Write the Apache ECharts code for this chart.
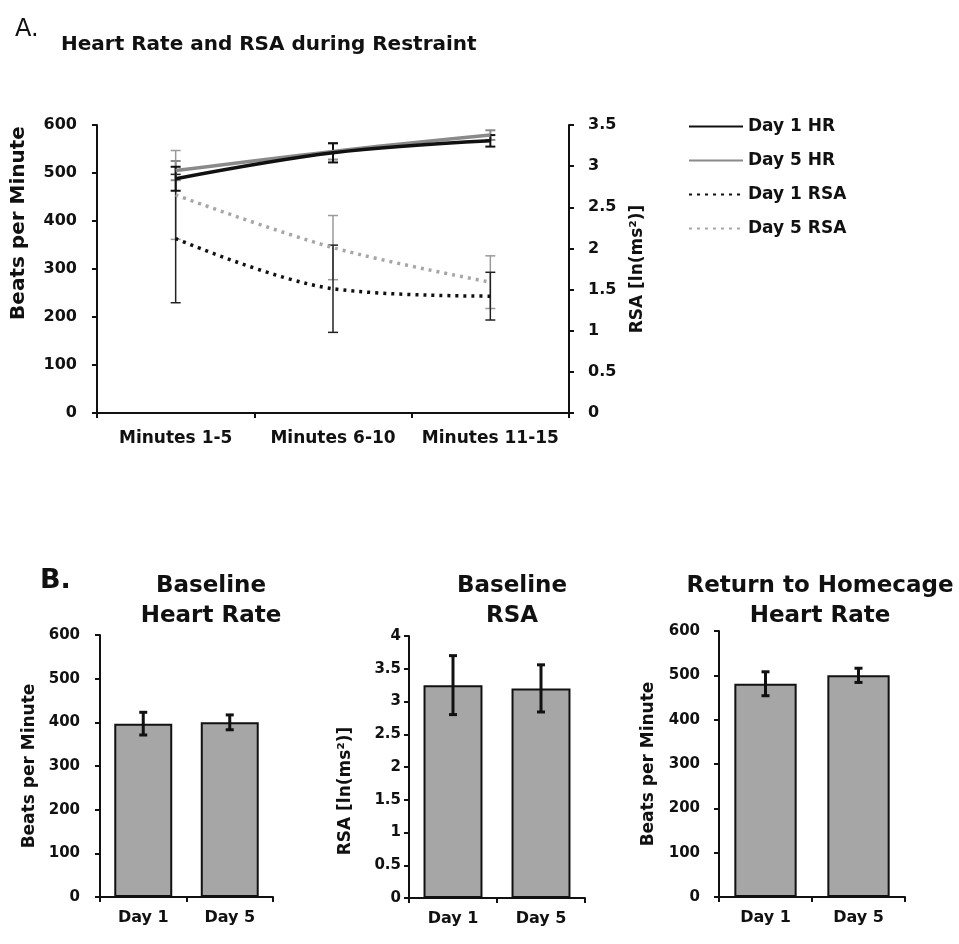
<!DOCTYPE html>
<html>
<head>
<meta charset="utf-8">
<script src="https://cdn.jsdelivr.net/npm/echarts@6/dist/echarts.min.js"></script>
<style>
html,body{margin:0;padding:0;background:#fff;}
#chart{width:959px;height:944px;}
</style>
</head>
<body>
<div id="chart"></div>
<script>
// ---- Panel A data ----
const minutes = ['Minutes 1-5', 'Minutes 6-10', 'Minutes 11-15'];
const day1HR = [488, 542, 567];
const day1HRErr = [25, 20, 12];
const day5HR = [505, 545, 579];
const day5HRErr = [20, 17, 10];
const day1RSA = [2.12, 1.51, 1.42];
const day1RSAErr = [0.78, 0.53, 0.29];
const day5RSA = [2.65, 2.01, 1.59];
const day5RSAErr = [0.54, 0.39, 0.32];

// ---- Panel B data ----
const days = ['Day 1', 'Day 5'];
const baseHR = [397, 400];
const baseHRErr = [26, 17];
const baseRSA = [3.25, 3.2];
const baseRSAErr = [0.45, 0.36];
const homeHR = [481, 500];
const homeHRErr = [27, 16];

const FONT = 'DejaVu Sans';

function errData(vals, errs) {
  return vals.map((v, i) => [i, v - errs[i], v + errs[i]]);
}
function errRender(color, width, cap) {
  return function (params, api) {
    const x = api.value(0);
    const lo = api.coord([x, api.value(1)]);
    const hi = api.coord([x, api.value(2)]);
    const st = { stroke: color, lineWidth: width };
    return {
      type: 'group',
      children: [
        { type: 'line', shape: { x1: lo[0], y1: lo[1], x2: hi[0], y2: hi[1] }, style: st },
        { type: 'line', shape: { x1: lo[0] - cap, y1: lo[1], x2: lo[0] + cap, y2: lo[1] }, style: st },
        { type: 'line', shape: { x1: hi[0] - cap, y1: hi[1], x2: hi[0] + cap, y2: hi[1] }, style: st }
      ]
    };
  };
}

const axisLine = { lineStyle: { color: '#111', width: 2 } };
const axisTick = { show: true, length: 5, lineStyle: { color: '#111', width: 2 } };
const tickFont = { fontFamily: FONT, fontWeight: 'bold', fontSize: 16, color: '#111' };

function valueAxis(gridIndex, max, interval, name, nameGap, margin, fontSize, nameSize, namePad) {
  return {
    type: 'value', gridIndex, min: 0, max, interval,
    name, nameLocation: 'middle', nameGap, nameRotate: 90,
    nameTextStyle: { fontFamily: FONT, fontWeight: 'bold', fontSize: nameSize || 17, color: '#111', padding: namePad || 0 },
    axisLine: Object.assign({ show: true }, axisLine), axisTick,
    splitLine: { show: false },
    axisLabel: Object.assign({}, tickFont, { margin, fontSize: fontSize || 16 })
  };
}
function catAxis(gridIndex, data, margin, fontSize) {
  return {
    type: 'category', gridIndex, data, boundaryGap: true,
    axisLine, axisTick: Object.assign({ alignWithLabel: false }, axisTick),
    axisLabel: Object.assign({}, tickFont, { margin, fontSize: fontSize || 16, interval: 0 })
  };
}

const chart = echarts.init(document.getElementById('chart'), null, { renderer: 'canvas' });

const option = {
  backgroundColor: '#fff',
  animation: false,
  title: [
    { text: 'A.', left: 10, top: 13, textStyle: { fontFamily: FONT, fontWeight: 'normal', fontSize: 24, color: '#111' } },
    { text: 'Heart Rate and RSA during Restraint', left: 56, top: 30, textStyle: { fontFamily: FONT, fontWeight: 'bold', fontSize: 20, color: '#111' } },
    { text: 'B.', left: 35, top: 562, textStyle: { fontFamily: FONT, fontWeight: 'bold', fontSize: 27, color: '#111' } },
    { text: 'Baseline\nHeart Rate', left: 206, top: 566, textAlign: 'center', textStyle: { fontFamily: FONT, fontWeight: 'bold', fontSize: 23, lineHeight: 30, color: '#111' } },
    { text: 'Baseline\nRSA', left: 507, top: 566, textAlign: 'center', textStyle: { fontFamily: FONT, fontWeight: 'bold', fontSize: 23, lineHeight: 30, color: '#111' } },
    { text: 'Return to Homecage\nHeart Rate', left: 815, top: 566, textAlign: 'center', textStyle: { fontFamily: FONT, fontWeight: 'bold', fontSize: 23, lineHeight: 30, color: '#111' } }
  ],
  legend: {
    left: 683, top: 113, orient: 'vertical',
    itemWidth: 54, itemHeight: 14, itemGap: 17,
    itemStyle: { opacity: 0, borderWidth: 0 },
    data: ['Day 1 HR', 'Day 5 HR', 'Day 1 RSA', 'Day 5 RSA'],
    textStyle: { fontFamily: FONT, fontWeight: 'bold', fontSize: 17, color: '#111' }
  },
  grid: [
    { left: 97, top: 125, width: 472, height: 288 },
    { left: 100, top: 635, width: 173, height: 262 },
    { left: 409, top: 636, width: 176, height: 262 },
    { left: 719, top: 631, width: 186, height: 266 }
  ],
  xAxis: [
    catAxis(0, minutes, 17, 17),
    catAxis(1, days, 13, 16),
    catAxis(2, days, 13, 16),
    catAxis(3, days, 13, 16)
  ],
  yAxis: [
    valueAxis(0, 600, 100, 'Beats per Minute', 68, 20, 16, 20, [0, 0, 0, 92]),
    Object.assign(valueAxis(0, 3.5, 0.5, 'RSA [ln(ms²)]', 60, 19, 16, 17), { position: 'right' }),
    valueAxis(1, 600, 100, 'Beats per Minute', 62, 20, 15),
    valueAxis(2, 4, 0.5, 'RSA [ln(ms²)]', 55, 8, 15, 17, [0, 48, 0, 0]),
    valueAxis(3, 600, 100, 'Beats per Minute', 62, 19, 15)
  ],
  series: [
    // Panel A error bars
    { type: 'custom', name: 'e5r', xAxisIndex: 0, yAxisIndex: 1, data: errData(day5RSA, day5RSAErr), renderItem: errRender('#9a9a9a', 1.5, 5), encode: { x: 0, y: [1, 2] }, z: 3 },
    { type: 'custom', name: 'e1r', xAxisIndex: 0, yAxisIndex: 1, data: errData(day1RSA, day1RSAErr), renderItem: errRender('#222', 1.5, 5), encode: { x: 0, y: [1, 2] }, z: 3 },
    { type: 'custom', name: 'e5h', xAxisIndex: 0, yAxisIndex: 0, data: errData(day5HR, day5HRErr), renderItem: errRender('#8a8a8a', 2, 5), encode: { x: 0, y: [1, 2] }, z: 3 },
    { type: 'custom', name: 'e1h', xAxisIndex: 0, yAxisIndex: 0, data: errData(day1HR, day1HRErr), renderItem: errRender('#111', 2, 5), encode: { x: 0, y: [1, 2] }, z: 3 },
    // Panel A lines
    { type: 'line', name: 'Day 5 RSA', xAxisIndex: 0, yAxisIndex: 1, data: day5RSA, smooth: 0.35, symbol: 'none',
      lineStyle: { color: '#a6a6a6', width: 3.5, type: [3, 5] }, itemStyle: { color: '#a6a6a6' }, z: 4 },
    { type: 'line', name: 'Day 1 RSA', xAxisIndex: 0, yAxisIndex: 1, data: day1RSA, smooth: 0.35, symbol: 'none',
      lineStyle: { color: '#111', width: 3.5, type: [3, 5] }, itemStyle: { color: '#111' }, z: 4 },
    { type: 'line', name: 'Day 5 HR', xAxisIndex: 0, yAxisIndex: 0, data: day5HR, smooth: 0.35, symbol: 'none',
      lineStyle: { color: '#8a8a8a', width: 3.5 }, itemStyle: { color: '#8a8a8a' }, z: 5 },
    { type: 'line', name: 'Day 1 HR', xAxisIndex: 0, yAxisIndex: 0, data: day1HR, smooth: 0.35, symbol: 'none',
      lineStyle: { color: '#111', width: 3.5 }, itemStyle: { color: '#111' }, z: 6 },
    // Panel B bars
    { type: 'bar', xAxisIndex: 1, yAxisIndex: 2, data: baseHR, barCategoryGap: '33%',
      itemStyle: { color: '#a6a6a6', borderColor: '#111', borderWidth: 2 } },
    { type: 'custom', xAxisIndex: 1, yAxisIndex: 2, data: errData(baseHR, baseHRErr), renderItem: errRender('#111', 3, 4), encode: { x: 0, y: [1, 2] }, z: 5 },
    { type: 'bar', xAxisIndex: 2, yAxisIndex: 3, data: baseRSA, barCategoryGap: '33%',
      itemStyle: { color: '#a6a6a6', borderColor: '#111', borderWidth: 2 } },
    { type: 'custom', xAxisIndex: 2, yAxisIndex: 3, data: errData(baseRSA, baseRSAErr), renderItem: errRender('#111', 3, 4), encode: { x: 0, y: [1, 2] }, z: 5 },
    { type: 'bar', xAxisIndex: 3, yAxisIndex: 4, data: homeHR, barCategoryGap: '33%',
      itemStyle: { color: '#a6a6a6', borderColor: '#111', borderWidth: 2 } },
    { type: 'custom', xAxisIndex: 3, yAxisIndex: 4, data: errData(homeHR, homeHRErr), renderItem: errRender('#111', 3, 4), encode: { x: 0, y: [1, 2] }, z: 5 }
  ]
};
chart.setOption(option);
</script>
</body>
</html>
